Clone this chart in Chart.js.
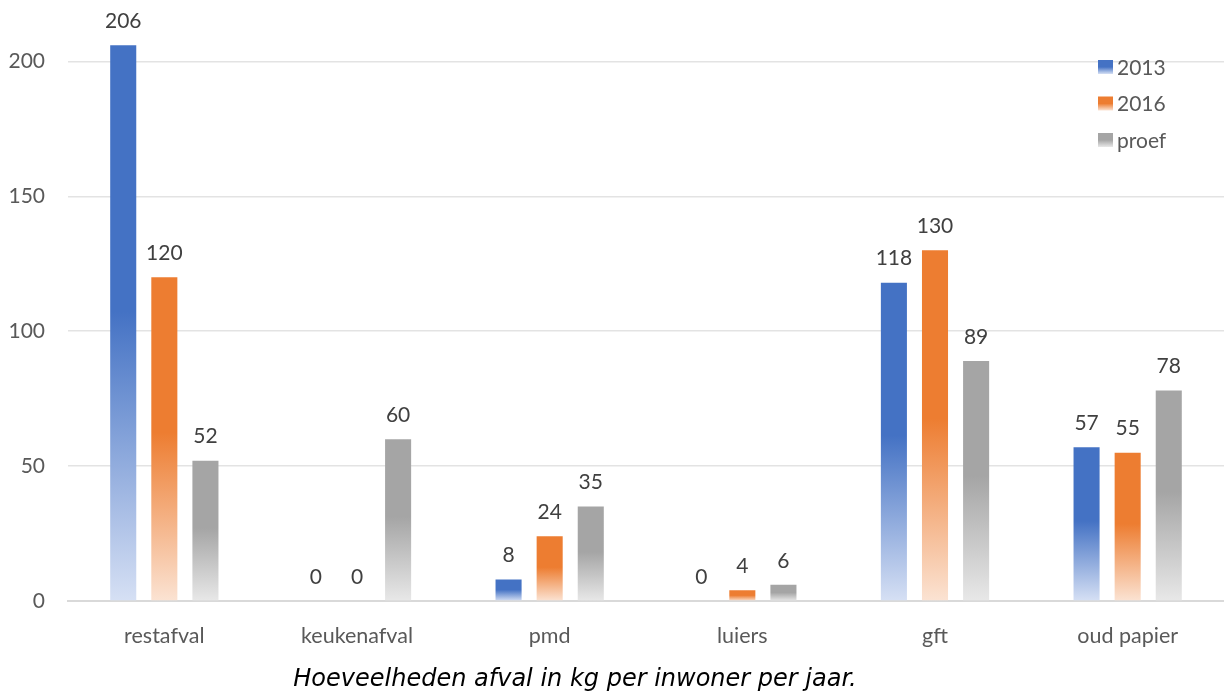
<!DOCTYPE html>
<html>
<head>
<meta charset="utf-8">
<script src="https://cdn.jsdelivr.net/npm/chart.js@4.4.1/dist/chart.umd.min.js"></script>
<style>
  html, body { margin: 0; padding: 0; background: #fff; }
  #wrap { width: 1224px; height: 693px; }
</style>
</head>
<body>
<div id="wrap"><canvas id="chart"></canvas></div>
<script>
// Data
const categories = ['restafval', 'keukenafval', 'pmd', 'luiers', 'gft', 'oud papier'];
const values2013 = [206, 0, 8, 0, 118, 57];
const values2016 = [120, 0, 24, 4, 130, 55];
const valuesProef = [52, 60, 35, 6, 89, 78];
const seriesNames = ['2013', '2016', 'proef'];
const yTicks = [0, 50, 100, 150, 200];

const solid = ['#4472C4', '#ED7D31', '#A5A5A5'];
const light = ['#D6E0F4', '#FBE3D3', '#E8E8E8'];
const labelFont = 'Lato, "Open Sans", sans-serif';

// gradient per bar: solid at the top half, fading out towards the base
function barGradient(i) {
    return (ctx) => {
        const chart = ctx.chart;
        const y = chart.scales.y;
        if (!y || ctx.parsed === undefined || ctx.type !== 'data') return solid[i];
        const top = y.getPixelForValue(ctx.parsed.y);
        const base = y.getPixelForValue(0);
        if (!isFinite(top) || base - top < 1) return solid[i];
        const g = chart.ctx.createLinearGradient(0, top, 0, base);
        g.addColorStop(0, solid[i]);
        g.addColorStop(0.48, solid[i]);
        g.addColorStop(1, light[i]);
        return g;
    };
}

// Value labels, legend and caption
const extras = {
    id: 'extras',
    afterDatasetsDraw(chart) {
        const c = chart.ctx;
        c.save();
        c.font = '21px ' + labelFont;
        c.fillStyle = '#404040';
        c.textAlign = 'center';
        c.textBaseline = 'middle';
        chart.data.datasets.forEach((ds, di) => {
            chart.getDatasetMeta(di).data.forEach((bar, idx) => {
                c.fillText(String(ds.data[idx]), bar.x, bar.y - 24);
            });
        });

        // legend
        const area = chart.chartArea;
        const lx = area.right - 126;
        seriesNames.forEach((name, i) => {
            const cy = 67 + i * 36.5;
            const g = c.createLinearGradient(0, cy - 7, 0, cy + 7);
            g.addColorStop(0, solid[i]);
            g.addColorStop(0.5, solid[i]);
            g.addColorStop(1, light[i]);
            c.fillStyle = g;
            c.fillRect(lx, cy - 7, 15, 14);
            c.fillStyle = '#595959';
            c.textAlign = 'left';
            c.fillText(name, lx + 19, cy + 1);
        });

        // caption
        c.font = 'italic 24px "DejaVu Sans", Verdana, sans-serif';
        c.fillStyle = '#000';
        c.textAlign = 'center';
        c.fillText('Hoeveelheden afval in kg per inwoner per jaar.', 575, 680);
        c.restore();
    }
};

const ctx = document.getElementById('chart').getContext('2d');
new Chart(ctx, {
    type: 'bar',
    data: {
        labels: categories,
        datasets: [values2013, values2016, valuesProef].map((d, i) => ({
            label: seriesNames[i],
            data: d,
            backgroundColor: barGradient(i),
            categoryPercentage: 0.64,
            barPercentage: 0.634
        }))
    },
    options: {
        responsive: true,
        maintainAspectRatio: false,
        animation: false,
        layout: {
            autoPadding: false,
            padding: { left: 8, right: 0, top: 0, bottom: 40 }
        },
        plugins: {
            legend: { display: false },
            tooltip: { enabled: false }
        },
        scales: {
            x: {
                afterFit: (axis) => { axis.height = 52; },
                grid: { display: false, drawTicks: false },
                border: { display: true, color: '#D9D9D9', width: 2 },
                ticks: {
                    padding: 22,
                    color: '#595959',
                    font: { family: labelFont, size: 21.5 }
                }
            },
            y: {
                min: 0,
                max: 209.6,
                afterBuildTicks: (axis) => {
                    axis.ticks = yTicks.map(v => ({ value: v }));
                },
                afterFit: (axis) => { axis.width = 60; },
                grid: { color: '#E3E3E3', lineWidth: 1.5, drawTicks: false },
                border: { display: false },
                ticks: {
                    padding: 23,
                    color: '#595959',
                    font: { family: labelFont, size: 21 }
                }
            }
        }
    },
    plugins: [extras]
});
</script>
</body>
</html>
